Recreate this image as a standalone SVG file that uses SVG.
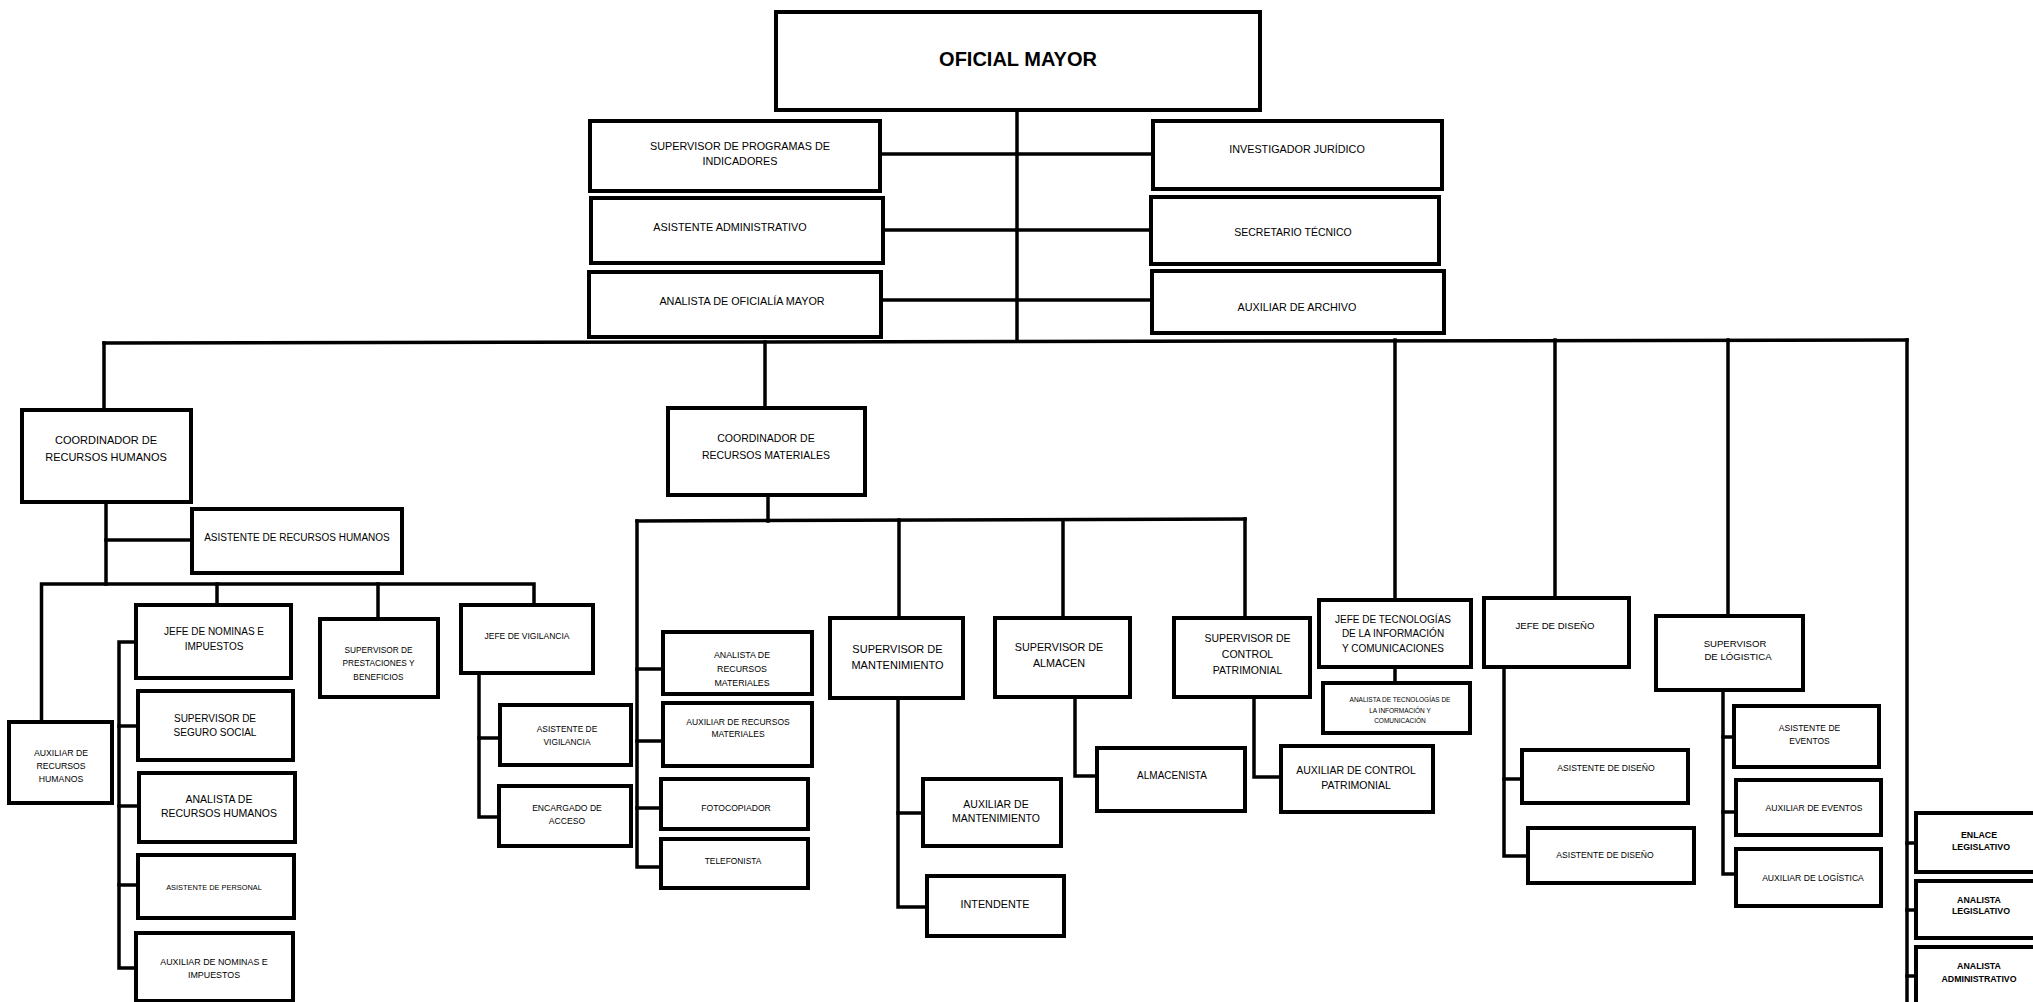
<svg xmlns="http://www.w3.org/2000/svg" width="2033" height="1002" viewBox="0 0 2033 1002">
<style>
rect{fill:#fff;stroke:#000;stroke-width:4}
text{font-family:"Liberation Sans",Arial,sans-serif;fill:#000;text-anchor:middle}
.b{font-weight:bold}
#connectors line,#connectors polyline{stroke:#000;stroke-width:3.5;fill:none;stroke-linecap:square}
</style>
<rect x="0" y="0" width="2033" height="1002" style="stroke:none;fill:#fff"/>
<g id="connectors">
<line x1="1017" y1="111" x2="1017" y2="341"/>
<line x1="880" y1="154" x2="1153" y2="154"/>
<line x1="883" y1="230" x2="1151" y2="230"/>
<line x1="881" y1="300" x2="1152" y2="300"/>
<line x1="104" y1="343" x2="1907" y2="340"/>
<line x1="104" y1="343" x2="104" y2="410"/>
<line x1="765" y1="342" x2="765" y2="408"/>
<line x1="1395" y1="340" x2="1395" y2="599"/>
<line x1="1555" y1="340" x2="1555" y2="598"/>
<line x1="1728" y1="340" x2="1728" y2="616"/>
<line x1="1907" y1="340" x2="1907" y2="1004"/>
<line x1="106" y1="502" x2="106" y2="584"/>
<line x1="106" y1="540" x2="192" y2="540"/>
<polyline points="41.5,722 41.5,584 534,584 534,605"/>
<line x1="217" y1="584" x2="217" y2="605"/>
<line x1="378" y1="584" x2="378" y2="619"/>
<polyline points="136,642 119,642 119,968 136,968"/>
<line x1="119" y1="726" x2="138" y2="726"/>
<line x1="119" y1="806" x2="139" y2="806"/>
<line x1="119" y1="885" x2="138" y2="885"/>
<polyline points="479,673 479,817 499,817"/>
<line x1="479" y1="738" x2="500" y2="738"/>
<line x1="768" y1="495" x2="768" y2="521"/>
<line x1="637" y1="521" x2="1245" y2="519"/>
<polyline points="637,521 637,867 661,867"/>
<line x1="637" y1="669" x2="663" y2="669"/>
<line x1="637" y1="741" x2="663" y2="741"/>
<line x1="637" y1="808" x2="661" y2="808"/>
<line x1="899" y1="520" x2="899" y2="618"/>
<line x1="1063" y1="520" x2="1063" y2="618"/>
<line x1="1245" y1="519" x2="1245" y2="618"/>
<polyline points="898,698 898,907 927,907"/>
<line x1="898" y1="813" x2="923" y2="813"/>
<polyline points="1075,697 1075,776 1097,776"/>
<polyline points="1254,697 1254,777 1281,777"/>
<line x1="1395" y1="667" x2="1395" y2="683"/>
<polyline points="1504,667 1504,856 1528,856"/>
<line x1="1504" y1="779" x2="1522" y2="779"/>
<polyline points="1723,690 1723,874 1736,874"/>
<line x1="1723" y1="737" x2="1734" y2="737"/>
<line x1="1723" y1="812" x2="1736" y2="812"/>
<line x1="1907" y1="843" x2="1916" y2="843"/>
<line x1="1907" y1="910" x2="1916" y2="910"/>
<line x1="1907" y1="976" x2="1916" y2="976"/>
</g>
<g id="oficial-mayor"><rect x="776" y="12" width="484" height="98"/><text class="b" x="1018" y="66" font-size="20">OFICIAL MAYOR</text></g>
<g id="sup-programas"><rect x="590" y="121" width="290" height="70"/><text x="740" font-size="10.8"><tspan x="740" y="150">SUPERVISOR DE PROGRAMAS DE</tspan><tspan x="740" y="165">INDICADORES</tspan></text></g>
<g id="asistente-administrativo"><rect x="591" y="198" width="292" height="65"/><text x="730" y="230.6" font-size="10.8">ASISTENTE ADMINISTRATIVO</text></g>
<g id="analista-oficialia"><rect x="589" y="272" width="292" height="65"/><text x="742" y="305" font-size="10.8">ANALISTA DE OFICIALÍA MAYOR</text></g>
<g id="investigador-juridico"><rect x="1153" y="121" width="289" height="68"/><text x="1297" y="153" font-size="10.8">INVESTIGADOR JURÍDICO</text></g>
<g id="secretario-tecnico"><rect x="1151" y="197" width="288" height="67"/><text x="1293" y="235.5" font-size="10.5">SECRETARIO TÉCNICO</text></g>
<g id="auxiliar-archivo"><rect x="1152" y="271" width="292" height="62"/><text x="1297" y="311" font-size="10.8">AUXILIAR DE ARCHIVO</text></g>
<g id="coord-rh"><rect x="22" y="410" width="169" height="92"/><text font-size="11"><tspan x="106" y="444">COORDINADOR DE</tspan><tspan x="106" y="461.3">RECURSOS HUMANOS</tspan></text></g>
<g id="asistente-rh"><rect x="192" y="509" width="210" height="64"/><text x="297" y="541" font-size="10">ASISTENTE DE RECURSOS HUMANOS</text></g>
<g id="auxiliar-rh"><rect x="9" y="722" width="103" height="81"/><text font-size="8.7"><tspan x="61" y="755.8">AUXILIAR DE</tspan><tspan x="61" y="768.8">RECURSOS</tspan><tspan x="61" y="781.8">HUMANOS</tspan></text></g>
<g id="jefe-nominas"><rect x="136" y="605" width="155" height="73"/><text font-size="10"><tspan x="214" y="635.3">JEFE DE NOMINAS E</tspan><tspan x="214" y="649.6">IMPUESTOS</tspan></text></g>
<g id="sup-prestaciones"><rect x="320" y="619" width="118" height="78"/><text font-size="8.3"><tspan x="378.5" y="653">SUPERVISOR DE</tspan><tspan x="378.5" y="666.3">PRESTACIONES Y</tspan><tspan x="378.5" y="679.7">BENEFICIOS</tspan></text></g>
<g id="jefe-vigilancia"><rect x="461" y="605" width="132" height="68"/><text x="527" y="639" font-size="8.5">JEFE DE VIGILANCIA</text></g>
<g id="sup-seguro-social"><rect x="138" y="691" width="155" height="69"/><text font-size="10"><tspan x="215" y="721.9">SUPERVISOR DE</tspan><tspan x="215" y="736.1">SEGURO SOCIAL</tspan></text></g>
<g id="analista-rh"><rect x="139" y="773" width="156" height="69"/><text font-size="10.5"><tspan x="219" y="802.8">ANALISTA DE</tspan><tspan x="219" y="817.1">RECURSOS HUMANOS</tspan></text></g>
<g id="asistente-personal"><rect x="138" y="855" width="156" height="63"/><text x="214" y="890" font-size="7.4">ASISTENTE DE PERSONAL</text></g>
<g id="auxiliar-nominas"><rect x="136" y="933" width="157" height="68"/><text font-size="8.9"><tspan x="214" y="964.9">AUXILIAR DE NOMINAS E</tspan><tspan x="214" y="978.2">IMPUESTOS</tspan></text></g>
<g id="asistente-vigilancia"><rect x="500" y="705" width="131" height="60"/><text font-size="8.4"><tspan x="567" y="732">ASISTENTE DE</tspan><tspan x="567" y="744.7">VIGILANCIA</tspan></text></g>
<g id="encargado-acceso"><rect x="499" y="786" width="132" height="60"/><text font-size="8.6"><tspan x="567" y="810.8">ENCARGADO DE</tspan><tspan x="567" y="823.8">ACCESO</tspan></text></g>
<g id="coord-rm"><rect x="668" y="408" width="197" height="87"/><text font-size="10.5"><tspan x="766" y="442.1">COORDINADOR DE</tspan><tspan x="766" y="458.8">RECURSOS MATERIALES</tspan></text></g>
<g id="analista-rm"><rect x="663" y="632" width="149" height="62"/><text font-size="8.8"><tspan x="742" y="658.2">ANALISTA DE</tspan><tspan x="742" y="672.2">RECURSOS</tspan><tspan x="742" y="685.5">MATERIALES</tspan></text></g>
<g id="auxiliar-rm"><rect x="663" y="703" width="149" height="63"/><text font-size="8.5"><tspan x="738" y="724.7">AUXILIAR DE RECURSOS</tspan><tspan x="738" y="737.3">MATERIALES</tspan></text></g>
<g id="fotocopiador"><rect x="661" y="779" width="147" height="50"/><text x="736" y="811.4" font-size="8.6">FOTOCOPIADOR</text></g>
<g id="telefonista"><rect x="661" y="839" width="147" height="49"/><text x="733" y="863.7" font-size="8.4">TELEFONISTA</text></g>
<g id="sup-mantenimiento"><rect x="830" y="618" width="133" height="80"/><text font-size="11"><tspan x="897.5" y="653.3">SUPERVISOR DE</tspan><tspan x="897.5" y="669">MANTENIMIENTO</tspan></text></g>
<g id="sup-almacen"><rect x="995" y="618" width="135" height="79"/><text font-size="10.8"><tspan x="1059" y="650.6">SUPERVISOR DE</tspan><tspan x="1059" y="666.6">ALMACEN</tspan></text></g>
<g id="sup-control-patrimonial"><rect x="1174" y="618" width="136" height="79"/><text font-size="10.5"><tspan x="1247.5" y="641.5">SUPERVISOR DE</tspan><tspan x="1247.5" y="657.8">CONTROL</tspan><tspan x="1247.5" y="673.8">PATRIMONIAL</tspan></text></g>
<g id="auxiliar-mantenimiento"><rect x="923" y="779" width="138" height="67"/><text font-size="10.5"><tspan x="996" y="807.8">AUXILIAR DE</tspan><tspan x="996" y="821.8">MANTENIMIENTO</tspan></text></g>
<g id="intendente"><rect x="927" y="876" width="137" height="60"/><text x="995" y="908" font-size="10.8">INTENDENTE</text></g>
<g id="almacenista"><rect x="1097" y="748" width="148" height="63"/><text x="1172" y="778.6" font-size="10">ALMACENISTA</text></g>
<g id="auxiliar-cp"><rect x="1281" y="746" width="152" height="66"/><text font-size="10.5"><tspan x="1356" y="773.8">AUXILIAR DE CONTROL</tspan><tspan x="1356" y="788.8">PATRIMONIAL</tspan></text></g>
<g id="jefe-tic"><rect x="1319" y="600" width="152" height="67"/><text font-size="10"><tspan x="1393" y="623.3">JEFE DE TECNOLOGÍAS</tspan><tspan x="1393" y="636.9">DE  LA  INFORMACIÓN</tspan><tspan x="1393" y="651.6">Y COMUNICACIONES</tspan></text></g>
<g id="analista-tic"><rect x="1323" y="683" width="147" height="50"/><text font-size="6.5"><tspan x="1400" y="702.3">ANALISTA DE TECNOLOGÍAS DE</tspan><tspan x="1400" y="713">LA INFORMACIÓN  Y</tspan><tspan x="1400" y="723">COMUNICACIÓN</tspan></text></g>
<g id="jefe-diseno"><rect x="1484" y="598" width="145" height="69"/><text x="1555" y="628.5" font-size="9.6">JEFE DE DISEÑO</text></g>
<g id="asistente-diseno-1"><rect x="1522" y="750" width="166" height="53"/><text x="1606" y="771.4" font-size="8.6">ASISTENTE DE DISEÑO</text></g>
<g id="asistente-diseno-2"><rect x="1528" y="828" width="166" height="55"/><text x="1605" y="858.4" font-size="8.6">ASISTENTE DE DISEÑO</text></g>
<g id="sup-logistica"><rect x="1656" y="616" width="147" height="74"/><text font-size="9.6"><tspan x="1735" y="646.8">SUPERVISOR</tspan><tspan x="1738" y="659.5">DE LÓGISTICA</tspan></text></g>
<g id="asistente-eventos"><rect x="1734" y="706" width="145" height="61"/><text font-size="8.5"><tspan x="1809.5" y="730.7">ASISTENTE DE</tspan><tspan x="1809.5" y="743.7">EVENTOS</tspan></text></g>
<g id="auxiliar-eventos"><rect x="1736" y="780" width="145" height="55"/><text x="1814" y="811.4" font-size="8.6">AUXILIAR DE EVENTOS</text></g>
<g id="auxiliar-logistica"><rect x="1736" y="849" width="145" height="57"/><text x="1813" y="881.4" font-size="8.6">AUXILIAR DE LOGÍSTICA</text></g>
<g id="enlace-legislativo"><rect x="1916" y="813" width="130" height="59"/><text class="b" font-size="8.8"><tspan x="1979" y="838.2">ENLACE</tspan><tspan x="1981" y="849.9">LEGISLATIVO</tspan></text></g>
<g id="analista-legislativo"><rect x="1916" y="881" width="130" height="57"/><text class="b" font-size="8.8"><tspan x="1979" y="902.5">ANALISTA</tspan><tspan x="1981" y="914.2">LEGISLATIVO</tspan></text></g>
<g id="analista-administrativo"><rect x="1916" y="947" width="130" height="70"/><text class="b" font-size="8.8"><tspan x="1979" y="968.9">ANALISTA</tspan><tspan x="1979" y="982.2">ADMINISTRATIVO</tspan></text></g>
</svg>
